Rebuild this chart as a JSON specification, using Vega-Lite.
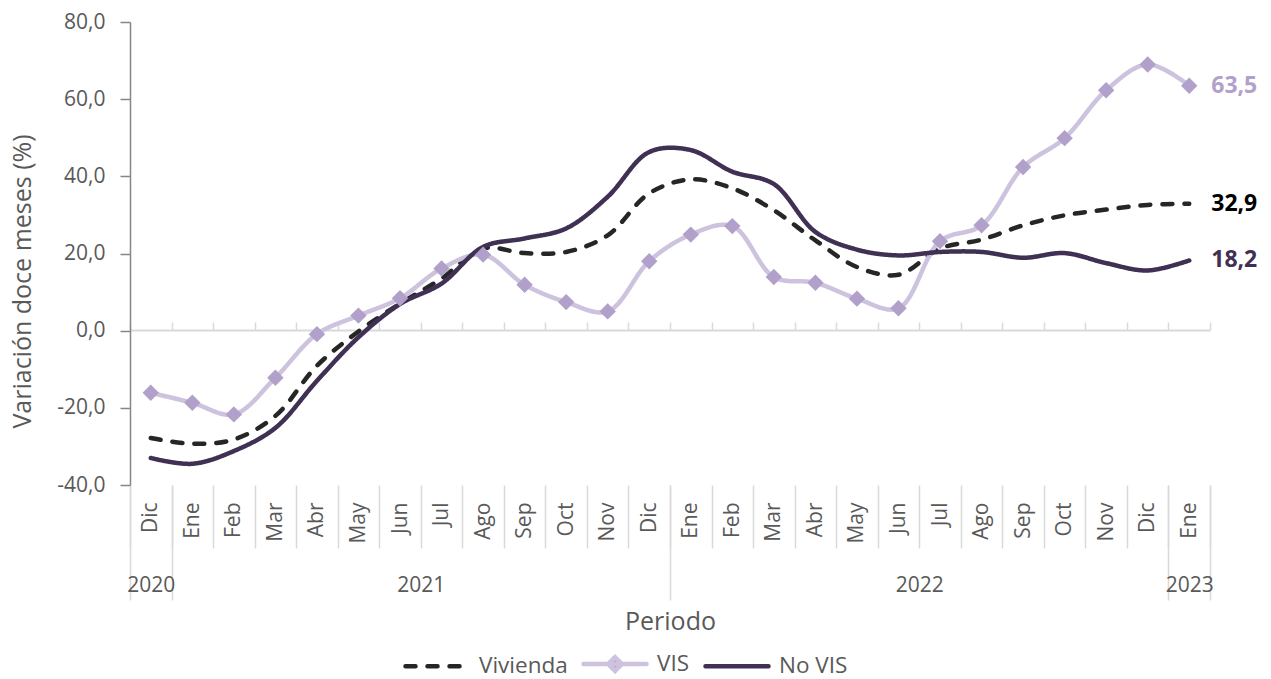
{
  "$schema": "https://vega.github.io/schema/vega-lite/v6.json",
  "width": 1080,
  "height": 463,
  "autosize": {"type": "none"},
  "padding": {"left": 130, "top": 22, "right": 61, "bottom": 194},
  "config": {
    "font": "Open Sans",
    "view": {"stroke": null},
    "locale": {"number": {"decimal": ",", "thousands": ".", "grouping": [3], "currency": ["", " €"], "minus": "-"}}
  },
  "datasets": {
    "series": [
      {"t": 0, "serie": "Vivienda", "v": -27.8}, {"t": 0, "serie": "VIS", "v": -16.1}, {"t": 0, "serie": "No VIS", "v": -33.0},
      {"t": 1, "serie": "Vivienda", "v": -29.3}, {"t": 1, "serie": "VIS", "v": -18.7}, {"t": 1, "serie": "No VIS", "v": -34.5},
      {"t": 2, "serie": "Vivienda", "v": -28.2}, {"t": 2, "serie": "VIS", "v": -21.7}, {"t": 2, "serie": "No VIS", "v": -31.2},
      {"t": 3, "serie": "Vivienda", "v": -22.1}, {"t": 3, "serie": "VIS", "v": -12.2}, {"t": 3, "serie": "No VIS", "v": -25.2},
      {"t": 4, "serie": "Vivienda", "v": -9.1}, {"t": 4, "serie": "VIS", "v": -0.9}, {"t": 4, "serie": "No VIS", "v": -13.0},
      {"t": 5, "serie": "Vivienda", "v": -0.2}, {"t": 5, "serie": "VIS", "v": 3.9}, {"t": 5, "serie": "No VIS", "v": -1.7},
      {"t": 6, "serie": "Vivienda", "v": 7.0}, {"t": 6, "serie": "VIS", "v": 8.4}, {"t": 6, "serie": "No VIS", "v": 6.9},
      {"t": 7, "serie": "Vivienda", "v": 13.5}, {"t": 7, "serie": "VIS", "v": 16.1}, {"t": 7, "serie": "No VIS", "v": 12.2},
      {"t": 8, "serie": "Vivienda", "v": 21.3}, {"t": 8, "serie": "VIS", "v": 19.7}, {"t": 8, "serie": "No VIS", "v": 21.7},
      {"t": 9, "serie": "Vivienda", "v": 20.1}, {"t": 9, "serie": "VIS", "v": 11.9}, {"t": 9, "serie": "No VIS", "v": 23.9},
      {"t": 10, "serie": "Vivienda", "v": 20.4}, {"t": 10, "serie": "VIS", "v": 7.4}, {"t": 10, "serie": "No VIS", "v": 26.5},
      {"t": 11, "serie": "Vivienda", "v": 24.7}, {"t": 11, "serie": "VIS", "v": 5.0}, {"t": 11, "serie": "No VIS", "v": 34.7},
      {"t": 12, "serie": "Vivienda", "v": 35.6}, {"t": 12, "serie": "VIS", "v": 18.0}, {"t": 12, "serie": "No VIS", "v": 46.3},
      {"t": 13, "serie": "Vivienda", "v": 39.2}, {"t": 13, "serie": "VIS", "v": 24.9}, {"t": 13, "serie": "No VIS", "v": 46.8},
      {"t": 14, "serie": "Vivienda", "v": 36.9}, {"t": 14, "serie": "VIS", "v": 27.1}, {"t": 14, "serie": "No VIS", "v": 41.2},
      {"t": 15, "serie": "Vivienda", "v": 31.2}, {"t": 15, "serie": "VIS", "v": 13.9}, {"t": 15, "serie": "No VIS", "v": 38.0},
      {"t": 16, "serie": "Vivienda", "v": 23.4}, {"t": 16, "serie": "VIS", "v": 12.4}, {"t": 16, "serie": "No VIS", "v": 25.6},
      {"t": 17, "serie": "Vivienda", "v": 16.5}, {"t": 17, "serie": "VIS", "v": 8.3}, {"t": 17, "serie": "No VIS", "v": 21.0},
      {"t": 18, "serie": "Vivienda", "v": 14.5}, {"t": 18, "serie": "VIS", "v": 5.8}, {"t": 18, "serie": "No VIS", "v": 19.5},
      {"t": 19, "serie": "Vivienda", "v": 21.3}, {"t": 19, "serie": "VIS", "v": 23.2}, {"t": 19, "serie": "No VIS", "v": 20.4},
      {"t": 20, "serie": "Vivienda", "v": 23.6}, {"t": 20, "serie": "VIS", "v": 27.3}, {"t": 20, "serie": "No VIS", "v": 20.4},
      {"t": 21, "serie": "Vivienda", "v": 27.3}, {"t": 21, "serie": "VIS", "v": 42.4}, {"t": 21, "serie": "No VIS", "v": 18.9},
      {"t": 22, "serie": "Vivienda", "v": 29.9}, {"t": 22, "serie": "VIS", "v": 49.9}, {"t": 22, "serie": "No VIS", "v": 20.1},
      {"t": 23, "serie": "Vivienda", "v": 31.4}, {"t": 23, "serie": "VIS", "v": 62.3}, {"t": 23, "serie": "No VIS", "v": 17.5},
      {"t": 24, "serie": "Vivienda", "v": 32.6}, {"t": 24, "serie": "VIS", "v": 69.0}, {"t": 24, "serie": "No VIS", "v": 15.6},
      {"t": 25, "serie": "Vivienda", "v": 32.9}, {"t": 25, "serie": "VIS", "v": 63.5}, {"t": 25, "serie": "No VIS", "v": 18.2}
    ],
    "sep": [{"p": 0}, {"p": 1}, {"p": 13}, {"p": 25}, {"p": 26}],
    "years": [{"p": 0.5, "y": "2020"}, {"p": 7, "y": "2021"}, {"p": 19, "y": "2022"}, {"p": 25.5, "y": "2023"}],
    "zero": [{"p": 0}, {"p": 26}]
  },
  "layer": [
    {
      "data": {"name": "series"},
      "encoding": {
        "x": {
          "field": "t", "type": "ordinal",
          "scale": {"type": "band", "paddingInner": 0, "paddingOuter": 0},
          "axis": {
            "orient": "bottom", "title": null, "domain": false,
            "ticks": true, "tickBand": "extent", "tickSize": 63, "tickColor": "#d9d9d9", "tickWidth": 1.5,
            "labelAngle": -90, "labelAlign": "right", "labelBaseline": "middle",
            "labelPadding": -46, "labelFontSize": 21, "labelColor": "#595959",
            "labelExpr": "['Dic','Ene','Feb','Mar','Abr','May','Jun','Jul','Ago','Sep','Oct','Nov','Dic','Ene','Feb','Mar','Abr','May','Jun','Jul','Ago','Sep','Oct','Nov','Dic','Ene'][datum.value]",
            "zindex": 0
          }
        },
        "y": {
          "field": "v", "type": "quantitative",
          "scale": {"domain": [-40, 80], "nice": false, "zero": false},
          "axis": {
            "values": [-40, -20, 0, 20, 40, 60, 80], "format": ".1f", "grid": false,
            "domainColor": "#868686", "domainWidth": 1.5, "tickColor": "#868686", "tickWidth": 1.5, "tickSize": 10,
            "labelFontSize": 21, "labelColor": "#595959", "labelPadding": 15,
            "title": "Variación doce meses (%)", "titleFontSize": 25, "titleFontWeight": "normal",
            "titleColor": "#595959", "titlePadding": 21, "titleY": 259
          }
        }
      },
      "layer": [
        {
          "mark": {"type": "line", "interpolate": "catmull-rom", "strokeWidth": 4.5, "strokeCap": "round"},
          "encoding": {
            "order": {"field": "t", "type": "quantitative"},
            "color": {
              "field": "serie", "type": "nominal",
              "scale": {"domain": ["Vivienda", "VIS", "No VIS"], "range": ["#262626", "#cdc3de", "#3f3054"]},
              "legend": {
                "orient": "none", "legendX": 273, "legendY": 608, "direction": "horizontal", "title": null,
                "symbolType": "stroke", "symbolSize": 3969, "symbolStrokeWidth": 4.5,
                "labelFontSize": 22.5, "labelColor": "#595959", "labelOffset": 8, "columnPadding": 6,
                "encode": {
                  "symbols": {
                    "update": {
                      "shape": {"signal": "datum.value === 'VIS' ? 'M-1,0H1M0,-0.22L0.22,0L0,0.22L-0.22,0Z' : 'M-1,0H1'"},
                      "fill": {"signal": "datum.value === 'VIS' ? '#b1a1ca' : 'transparent'"},
                      "strokeDash": {"signal": "datum.value === 'Vivienda' ? [11, 11] : [1, 0]"},
                      "strokeCap": {"value": "round"}
                    }
                  }
                }
              }
            },
            "strokeDash": {
              "field": "serie", "type": "nominal",
              "scale": {"domain": ["Vivienda", "VIS", "No VIS"], "range": [[10, 12], [1, 0], [1, 0]]},
              "legend": null
            }
          }
        },
        {
          "transform": [{"filter": "datum.serie === 'VIS'"}],
          "mark": {"type": "point", "shape": "diamond", "filled": true, "color": "#b1a1ca", "size": 270, "opacity": 1}
        },
        {
          "transform": [{"filter": "datum.t === 25"}],
          "mark": {"type": "text", "align": "left", "baseline": "middle", "dx": 22, "fontSize": 23, "fontWeight": "bold"},
          "encoding": {
            "text": {"field": "v", "type": "quantitative", "format": ".1f"},
            "color": {
              "condition": [
                {"test": "datum.serie === 'VIS'", "value": "#b1a1ca"},
                {"test": "datum.serie === 'No VIS'", "value": "#3f3054"}
              ],
              "value": "#000000"
            }
          }
        }
      ]
    },
    {
      "data": {"name": "sep"},
      "mark": {"type": "point", "opacity": 0},
      "encoding": {
        "x": {
          "field": "p", "type": "quantitative",
          "scale": {"domain": [0, 26], "nice": false, "zero": false},
          "axis": {
            "orient": "bottom", "values": [0, 1, 13, 25, 26], "grid": false, "domain": false, "labels": false,
            "ticks": true, "tickSize": 115, "tickColor": "#d9d9d9", "tickWidth": 1.5, "title": null
          }
        }
      }
    },
    {
      "data": {"name": "years"},
      "mark": {"type": "point", "opacity": 0},
      "encoding": {
        "x": {
          "field": "p", "type": "quantitative",
          "scale": {"domain": [0, 26], "nice": false, "zero": false},
          "axis": {
            "orient": "bottom", "values": [0.5, 7, 19, 25.5], "grid": false, "domain": false, "ticks": false,
            "labelExpr": "datum.value === 0.5 ? '2020' : datum.value === 7 ? '2021' : datum.value === 19 ? '2022' : '2023'",
            "labelFontSize": 21, "labelColor": "#595959", "labelPadding": 89, "labelFlush": false, "labelOverlap": false,
            "title": "Periodo", "titleFontSize": 25, "titleFontWeight": "normal", "titleColor": "#595959", "titlePadding": 14
          }
        }
      }
    },
    {
      "data": {"name": "zero"},
      "mark": {"type": "point", "opacity": 0},
      "encoding": {
        "x": {
          "field": "p", "type": "quantitative",
          "scale": {"domain": [0, 26], "nice": false, "zero": false},
          "axis": {
            "orient": "top", "offset": -308,
            "values": [0, 1, 2, 3, 4, 5, 6, 7, 8, 9, 10, 11, 12, 13, 14, 15, 16, 17, 18, 19, 20, 21, 22, 23, 24, 25, 26],
            "grid": false, "labels": false, "title": null,
            "domain": true, "domainColor": "#d9d9d9", "domainWidth": 2,
            "ticks": true, "tickSize": 8, "tickColor": "#d9d9d9", "tickWidth": 1.5
          }
        }
      }
    }
  ],
  "resolve": {"scale": {"x": "independent"}, "axis": {"x": "independent"}}
}
